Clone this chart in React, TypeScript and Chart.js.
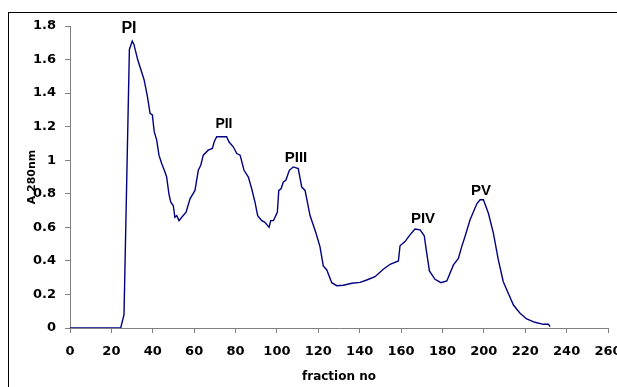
import React, { useEffect, useRef } from 'react';
import { Chart, registerables } from 'chart.js';

Chart.register(...registerables);

// fraction number (x) and absorbance at 280 nm (y)
const fractions = [
  0, 24.5, 26.1, 28.7, 30.1, 30.9, 32.7, 35.8, 37.4, 38.7, 39.8, 40.7, 41.9, 43.0, 44.3, 45.9,
  46.7, 47.8, 48.7, 49.9, 50.7, 51.6, 52.7, 54.0, 56.1, 58.0, 60.4, 62.0, 63.2, 64.4, 66.8,
  68.8, 69.7, 70.9, 74.1, 75.7, 76.8, 78.9, 80.6, 82.2, 84.1, 86.2, 87.8, 89.4, 90.7, 92.7,
  94.2, 96.2, 97.0, 98.3, 100.2, 100.9, 102.0, 103.1, 104.3, 106.0, 107.9, 110.3, 112.0, 113.6,
  116.0, 118.9, 120.8, 122.4, 124.1, 126.5, 128.9, 132.1, 136.2, 140.2, 143.4, 147.4, 151.4,
  154.7, 158.7, 159.5, 161.9, 164.3, 166.7, 169.2, 171.2, 172.4, 173.7, 176.4, 179.3, 182.1,
  185.3, 187.7, 189.3, 190.9, 193.3, 196.6, 198.2, 199.8, 202.2, 204.6, 207.0, 209.4, 211.8,
  214.3, 217.5, 220.7, 224.7, 228.8, 231.2, 232.0,
];
const absorbance = [
  0, 0, 0.08, 1.66, 1.71, 1.69, 1.6, 1.48, 1.38, 1.28, 1.27, 1.17, 1.12, 1.03, 0.98, 0.93,
  0.9, 0.8, 0.75, 0.73, 0.66, 0.67, 0.64, 0.66, 0.69, 0.77, 0.82, 0.94, 0.97, 1.03, 1.06,
  1.07, 1.11, 1.14, 1.14, 1.14, 1.11, 1.08, 1.04, 1.03, 0.94, 0.9, 0.83, 0.75, 0.67, 0.64,
  0.63, 0.6, 0.64, 0.64, 0.69, 0.82, 0.83, 0.87, 0.88, 0.94, 0.96, 0.95, 0.84, 0.82,
  0.67, 0.565, 0.485, 0.37, 0.346, 0.27, 0.252, 0.255, 0.267, 0.272, 0.286, 0.306, 0.35,
  0.38, 0.4, 0.49, 0.515, 0.555, 0.59, 0.585, 0.55, 0.446, 0.34, 0.29, 0.27, 0.28,
  0.376, 0.415, 0.485, 0.545, 0.644, 0.74, 0.764, 0.764, 0.684, 0.565, 0.406, 0.276, 0.207,
  0.137, 0.088, 0.054, 0.034, 0.022, 0.022, 0.008,
];

const xMin = 0;
const xMax = 260;
const xStep = 20;
const yMin = 0;
const yMax = 1.8;
const yStep = 0.2;

const xTitle = 'fraction no';
const yTitle = 'A 280nm';

const peakLabels = ['PI', 'PII', 'PIII', 'PIV', 'PV'];
const peakX = [28.5, 74.4, 109.2, 170.6, 198.6];
const peakY = [1.758, 1.19, 0.99, 0.626, 0.793];
const peakFontSizes = [16, 14, 15, 15, 15];

const LINE = '#000080';
const AXIS = '#808080';
const TICK_FONT = { family: '"DejaVu Sans", sans-serif', size: 13, weight: 'bold' as const };
const TITLE_FONT = { family: '"DejaVu Sans", sans-serif', size: 12, weight: 'bold' as const };
const Y_TITLE_FONT = { family: '"DejaVu Sans", sans-serif', size: 11, weight: 'bold' as const };

const peakPlugin = {
  id: 'peakLabels',
  afterDatasetsDraw(chart: any) {
    const { ctx, scales } = chart;
    ctx.save();
    ctx.fillStyle = '#000';
    ctx.textAlign = 'center';
    ctx.textBaseline = 'alphabetic';
    peakLabels.forEach((t, i) => {
      ctx.font = `bold ${peakFontSizes[i]}px "Liberation Sans", Arial, sans-serif`;
      ctx.fillText(t, scales.x.getPixelForValue(peakX[i]), scales.y.getPixelForValue(peakY[i]));
    });
    ctx.restore();
  },
};

export default function App() {
  const ref = useRef<HTMLCanvasElement>(null);

  useEffect(() => {
    if (!ref.current) return;
    const chart = new Chart(ref.current, {
      type: 'line',
      data: {
        datasets: [
          {
            data: fractions.map((x, i) => ({ x, y: absorbance[i] })),
            borderColor: LINE,
            borderWidth: 1.4,
            pointRadius: 0,
            tension: 0,
            fill: false,
          },
        ],
      },
      options: {
        animation: false,
        responsive: false,
        devicePixelRatio: 1,
        layout: { padding: { top: 26, right: 9, left: 0, bottom: 0 } },
        plugins: { legend: { display: false }, tooltip: { enabled: false } },
        scales: {
          x: {
            type: 'linear',
            min: xMin,
            max: xMax,
            ticks: { stepSize: xStep, color: '#000', font: TICK_FONT, padding: 11, maxRotation: 0 },
            grid: { drawOnChartArea: false, drawTicks: true, tickLength: 5, color: AXIS },
            border: { color: AXIS, width: 1 },
            title: {
              display: true,
              text: xTitle,
              color: '#000',
              font: TITLE_FONT,
              padding: { top: 0, bottom: 3 },
            },
            afterFit: (s: any) => {
              s.height = 59;
              s.paddingLeft = 0;
              s.paddingRight = 0;
            },
          },
          y: {
            type: 'linear',
            min: yMin,
            max: yMax,
            ticks: {
              stepSize: yStep,
              color: '#000',
              font: TICK_FONT,
              padding: 9,
              callback: (v: any) => String(Math.round(Number(v) * 10) / 10),
            },
            grid: { drawOnChartArea: false, drawTicks: true, tickLength: 5, color: AXIS },
            border: { color: AXIS, width: 1 },
            title: {
              display: true,
              text: yTitle,
              color: '#000',
              font: Y_TITLE_FONT,
              padding: { top: 26, bottom: 0 },
            },
            afterFit: (s: any) => {
              s.width = 70;
              s.paddingTop = 0;
              s.paddingBottom = 0;
            },
          },
        },
      },
      plugins: [peakPlugin],
    });
    return () => chart.destroy();
  }, []);

  return (
    <div
      style={{
        position: 'fixed',
        left: 0,
        top: 0,
        width: 617,
        height: 387,
        overflow: 'hidden',
        background: '#fff',
      }}
    >
      <div
        style={{
          position: 'absolute',
          left: 8,
          top: 12,
          width: 700,
          height: 500,
          border: '1px solid #000',
        }}
      />
      <canvas
        ref={ref}
        width={617}
        height={387}
        style={{ position: 'absolute', left: 0, top: 0, display: 'block' }}
      />
    </div>
  );
}
